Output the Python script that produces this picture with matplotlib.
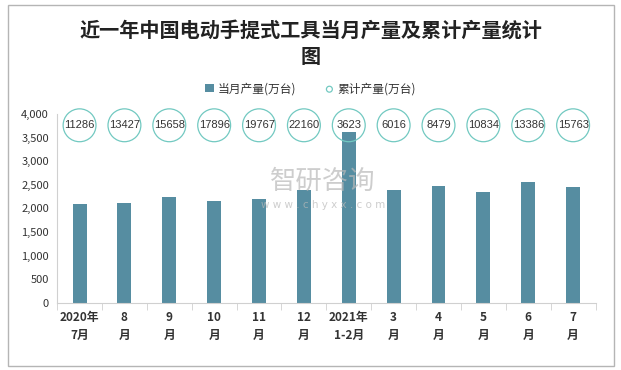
import matplotlib.pyplot as plt
import numpy as np
from matplotlib.patches import Rectangle
from matplotlib.ticker import FuncFormatter

plt.rcParams["font.family"] = ["Noto Sans CJK SC", "DejaVu Sans"]

months = ["2020年\n7月", "8\n月", "9\n月", "10\n月", "11\n月", "12\n月",
          "2021年\n1-2月", "3\n月", "4\n月", "5\n月", "6\n月", "7\n月"]
monthly = [2092, 2113, 2240, 2155, 2198, 2388, 3623, 2393, 2463, 2355, 2552, 2450]
cumulative = [11286, 13427, 15658, 17896, 19767, 22160, 3623, 6016, 8479, 10834, 13386, 15763]
marker_level = 3760  # circles sit in a row near the top of the axis

bar_color = "#568da1"
ring_color = "#72c9c1"

fig = plt.figure(figsize=(6.21, 3.70), dpi=100)
fig.patches.append(Rectangle((0.013, 0.012), 0.975, 0.975, transform=fig.transFigure,
                             fill=False, edgecolor="#b5b5b5", linewidth=1.0))

ax = fig.add_axes([0.092, 0.182, 0.867, 0.51])
x = np.arange(len(months))
bars = ax.bar(x, monthly, width=0.31, color=bar_color, zorder=2, label="当月产量(万台)")
rings = ax.scatter(x, [marker_level] * len(x), s=560, facecolors="none", edgecolors=ring_color,
                   linewidths=0.9, zorder=3, clip_on=False, label="累计产量(万台)")
for xi, v in zip(x, cumulative):
    ax.text(xi, marker_level, str(v), ha="center", va="center", fontsize=8,
            color="#333333", family=["Liberation Sans", "DejaVu Sans"], zorder=4)

ax.set_xlim(-0.5, len(months) - 0.5)
ax.set_ylim(0, 4000)
ax.set_yticks(np.arange(0, 4001, 500))
ax.yaxis.set_major_formatter(FuncFormatter(lambda v, p: f"{int(v):,}"))
ax.set_xticks(x)
ax.set_xticklabels(months, fontsize=8.5, fontweight="bold", color="#333333", linespacing=1.5)
ax.set_xticks(np.arange(-0.5, len(months)), minor=True)
ax.tick_params(axis="x", which="major", length=0, pad=6)
ax.tick_params(axis="x", which="minor", length=5, color="#d0d0d0", direction="out")
ax.tick_params(axis="y", length=0, labelsize=8, labelcolor="#333333", pad=6)
for s in ["top", "right"]:
    ax.spines[s].set_visible(False)
ax.spines["left"].set_color("#d0d0d0")
ax.spines["bottom"].set_color("#d0d0d0")

# watermark
fig.text(0.52, 0.51, "智研咨询", fontsize=19, color="#b9b9b9", alpha=0.7, ha="center", va="center")
fig.text(0.52, 0.445, "w w w . c h y x x . c o m", fontsize=7.5, color="#b9b9b9", alpha=0.7,
         ha="center", va="center", family=["DejaVu Sans"])

fig.text(0.5, 0.92, "近一年中国电动手提式工具当月产量及累计产量统计", fontsize=14.5,
         fontweight="bold", ha="center", va="center", color="#222222")
fig.text(0.5, 0.848, "图", fontsize=14.5, fontweight="bold", ha="center", va="center", color="#222222")

leg = fig.legend([bars, rings], ["当月产量(万台)", "累计产量(万台)"], loc="center",
                 bbox_to_anchor=(0.5, 0.76), ncol=2, frameon=False,
                 fontsize=8.5, handlelength=0.7, handletextpad=0.3, columnspacing=2.5,
                 markerscale=0.18)
for t in leg.get_texts():
    t.set_color("#333333")

fig.savefig("out.png", dpi=100)
